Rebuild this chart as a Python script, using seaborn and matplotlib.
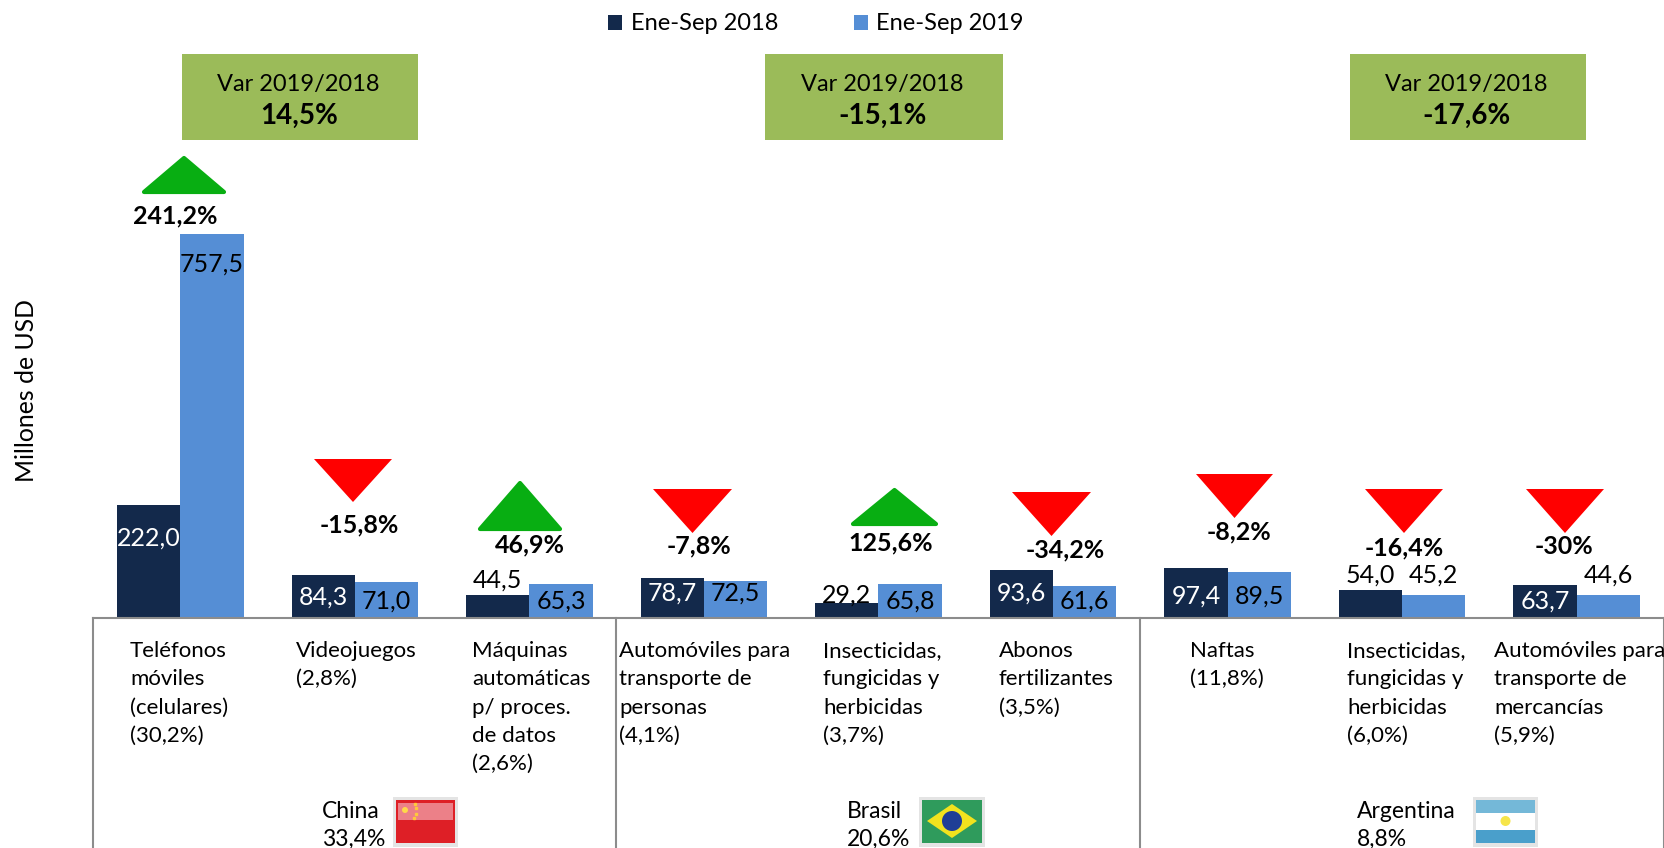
import pandas as pd
import seaborn as sns
import matplotlib.pyplot as plt
from matplotlib.patches import Rectangle, Polygon, Circle

W, H = 1665, 848
BASE_Y = 617.5
PX_PER_USD = 0.5063

productos = ['Teléfonos\nmóviles\n(celulares)\n(30,2%)', 'Videojuegos\n(2,8%)',
             'Máquinas\nautomáticas\np/ proces.\nde datos\n(2,6%)',
             'Automóviles para\ntransporte de\npersonas\n(4,1%)',
             'Insecticidas,\nfungicidas y\nherbicidas\n(3,7%)', 'Abonos\nfertilizantes\n(3,5%)',
             'Naftas\n(11,8%)', 'Insecticidas,\nfungicidas y\nherbicidas\n(6,0%)',
             'Automóviles para\ntransporte de\nmercancías\n(5,9%)']
valores_2018 = [222.0, 84.3, 44.5, 78.7, 29.2, 93.6, 97.4, 54.0, 63.7]
valores_2019 = [757.5, 71.0, 65.3, 72.5, 65.8, 61.6, 89.5, 45.2, 44.6]
variaciones = ['241,2%', '-15,8%', '46,9%', '-7,8%', '125,6%', '-34,2%', '-8,2%', '-16,4%', '-30%']
paises = ['China\n33,4%', 'Brasil\n20,6%', 'Argentina\n8,8%']
var_paises = ['14,5%', '-15,1%', '-17,6%']

# posiciones en pixeles de la imagen
label_y_2018 = [538, 597, 580, 593, 595, 593, 596, 575, 601]
label_y_2019 = [264, 601, 601, 593, 601, 601, 596, 575, 575]
label_color_2018 = ['white', 'white', 'black', 'white', 'black', 'white', 'white', 'black', 'white']
var_x = [175, 359, 530, 699, 891, 1065, 1239, 1404, 1564]
var_y = [216, 525, 545, 546, 543, 550, 532, 548, 547]
tri_x0 = [142, 314, 478, 653, 851, 1012, 1196, 1365, 1526]
tri_x1 = [226, 392, 562, 732, 938, 1091, 1273, 1443, 1604]
tri_y0 = [156, 459, 481, 489, 488, 492, 474, 489, 489]
tri_y1 = [194, 502, 531, 533, 526, 536, 518, 533, 533]
prod_x = [130, 296, 472, 619, 823, 999, 1190, 1347, 1494]
box_x0 = [182, 765, 1350]
box_x1 = [418, 1003, 1586]
pais_x = [322, 847, 1357]
div_x = [93, 616.5, 1140, 1664]

plt.rcParams['font.family'] = ['Lato', 'DejaVu Sans']
FS_TXT = 16
FS_NUM = 18
FS_BOLD = 18

df = pd.DataFrame({
    'producto': list(range(9)) * 2,
    'periodo': ['Ene-Sep 2018'] * 9 + ['Ene-Sep 2019'] * 9,
    'valor': valores_2018 + valores_2019,
})

fig = plt.figure(figsize=(W / 100, H / 100), dpi=100)
ax = fig.add_axes([93 / W, (H - BASE_Y) / H, 1571 / W, BASE_Y / H])
sns.barplot(data=df, x='producto', y='valor', hue='periodo', ax=ax, width=0.725, gap=0,
            palette=['#13294B', '#558ED5'], saturation=1, legend=True)
ax.set_xlim(-0.5, 8.5)
ax.set_ylim(0, BASE_Y / PX_PER_USD)
ax.set_xlabel('')
ax.set_ylabel('')
ax.set_xticks([])
ax.set_yticks([])
for s in ax.spines.values():
    s.set_visible(False)

leg = ax.legend(loc='center', bbox_to_anchor=(0.4602, 1 - 24 / BASE_Y), ncol=2, frameon=False,
                fontsize=17, handlelength=0.6, handleheight=0.6, handletextpad=0.36,
                columnspacing=3.2, borderpad=0)

# capa en pixeles para anotaciones
ov = fig.add_axes([0, 0, 1, 1], zorder=5)
ov.set_xlim(0, W)
ov.set_ylim(H, 0)
ov.axis('off')
ov.patch.set_alpha(0)

# etiquetas de las barras, x tomada de las barras
cont_2018, cont_2019 = ax.containers[0], ax.containers[1]
for i in range(9):
    for bar, val, y, col in ((cont_2018[i], valores_2018[i], label_y_2018[i], label_color_2018[i]),
                             (cont_2019[i], valores_2019[i], label_y_2019[i], 'black')):
        xc = bar.get_x() + bar.get_width() / 2
        xp = ov.transData.inverted().transform(ax.transData.transform((xc, 0)))[0]
        ov.text(xp, y, f'{val:.1f}'.replace('.', ','), color=col, fontsize=FS_NUM,
                ha='center', va='center')

# triangulos y variacion
for i, var in enumerate(variaciones):
    x0, x1, y0, y1 = tri_x0[i], tri_x1[i], tri_y0[i], tri_y1[i]
    xm = (x0 + x1) / 2
    if var.startswith('-'):
        ov.add_patch(Polygon([(x0, y0), (x1, y0), (xm, y1)], facecolor='#FF0000', edgecolor='none'))
    else:
        ov.add_patch(Polygon([(x0 + 2, y1 - 2), (x1 - 2, y1 - 2), (xm, y0 + 2)], facecolor='#08AE12',
                             edgecolor='#08AE12', lw=3, joinstyle='round'))
    ov.text(var_x[i], var_y[i], var, fontsize=FS_BOLD, fontweight='bold', ha='center', va='center')
    ov.text(prod_x[i], 641, productos[i], fontsize=FS_TXT, ha='left', va='top', linespacing=1.52)

# cajas de variacion por pais
for i in range(3):
    ov.add_patch(Rectangle((box_x0[i], 54), box_x1[i] - box_x0[i], 86, facecolor='#9BBB59', edgecolor='none'))
    xm = (box_x0[i] + box_x1[i]) / 2
    ov.text(xm - 2, 84, 'Var 2019/2018', fontsize=17, ha='center', va='center')
    ov.text(xm - 1, 116, var_paises[i], fontsize=20, fontweight='bold', ha='center', va='center')
    ov.text(pais_x[i], 801, paises[i], fontsize=16.5, ha='left', va='top', linespacing=1.42, clip_on=True)

# linea base y divisores
ov.plot([div_x[0], div_x[-1]], [BASE_Y, BASE_Y], color='#8C8C8C', lw=1.5)
for x in div_x:
    ov.plot([x, x], [BASE_Y, H], color='#8C8C8C', lw=1.5)

ov.text(27, 390, 'Millones de USD', fontsize=17.8, rotation=90, ha='center', va='center')


def base_flag(x, w):
    ov.add_patch(Rectangle((x - 3, 797), w + 6, 50, facecolor='#E4E4E4', edgecolor='none'))


# bandera China
base_flag(396, 59)
ov.add_patch(Rectangle((396, 800), 59, 43, facecolor='#DE1F26', edgecolor='none'))
ov.add_patch(Rectangle((398, 803), 55, 17, facecolor='#EC8088', edgecolor='none'))
ov.add_patch(Circle((405, 810), 3, facecolor='#FFD84A', edgecolor='none'))
ov.plot([415, 416, 416, 414], [804, 808, 814, 818], ls='none', marker='s', ms=1.5, color='#FFC83C')

# bandera Brasil
base_flag(922, 60)
ov.add_patch(Rectangle((922, 800), 60, 43, facecolor='#2F9B5C', edgecolor='none'))
ov.add_patch(Polygon([(927, 821), (952, 804), (977, 821), (952, 838)], facecolor='#F2E21E', edgecolor='none'))
ov.add_patch(Circle((952, 821), 10, facecolor='#1F3E96', edgecolor='none'))

# bandera Argentina
base_flag(1476, 59)
ov.add_patch(Rectangle((1476, 800), 59, 43, facecolor='#FFFFFF', edgecolor='none'))
ov.add_patch(Rectangle((1476, 800), 59, 13, facecolor='#74B8D8', edgecolor='none'))
ov.add_patch(Rectangle((1476, 830), 59, 13, facecolor='#4A9FCB', edgecolor='none'))
ov.add_patch(Circle((1505.5, 821), 5, facecolor='#F6E54A', edgecolor='none'))

plt.savefig('out.png', dpi=100)
